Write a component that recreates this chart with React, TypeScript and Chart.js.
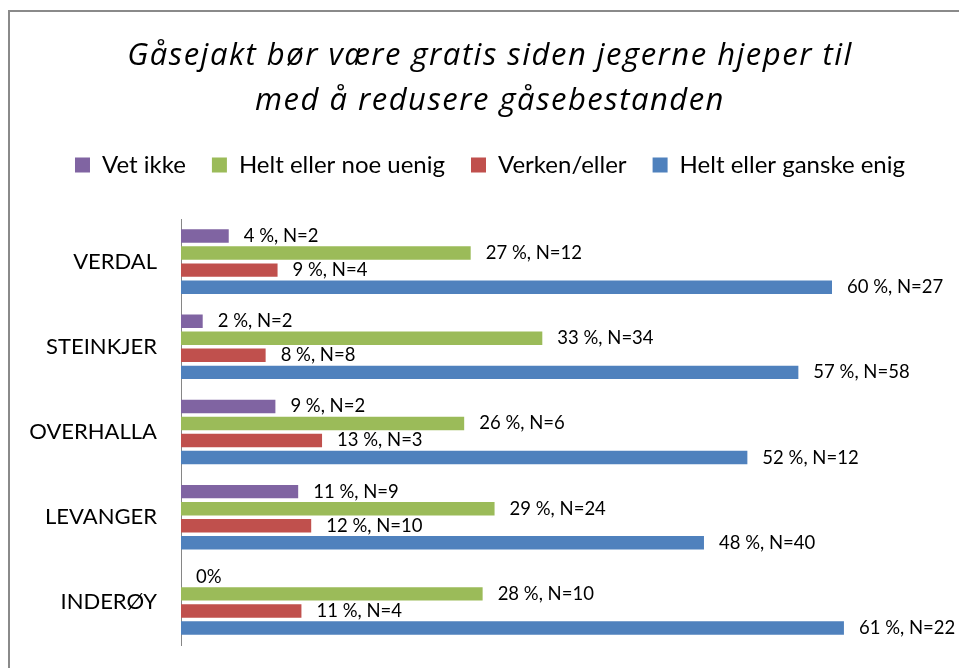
import React, { useEffect, useRef } from "react";
import { Chart, registerables } from "chart.js";

Chart.register(...registerables);

const categories = ["VERDAL", "STEINKJER", "OVERHALLA", "LEVANGER", "INDERØY"];

const seriesNames = ["Vet ikke", "Helt eller noe uenig", "Verken/eller", "Helt eller ganske enig"];
const seriesColors = ["#8064A2", "#9BBB59", "#C0504D", "#4F81BD"];

const vetIkke = [4.4, 2.0, 8.7, 10.8, 0];
const vetIkkeN = [2, 2, 2, 9, 0];
const uenig = [26.7, 33.3, 26.1, 28.9, 27.8];
const uenigN = [12, 34, 6, 24, 10];
const verken = [8.9, 7.8, 13.0, 12.0, 11.1];
const verkenN = [4, 8, 3, 10, 4];
const enig = [60.0, 56.9, 52.2, 48.2, 61.1];
const enigN = [27, 58, 12, 40, 22];

const titleLines = [
  "Gåsejakt bør være gratis siden jegerne hjeper til",
  "med å redusere gåsebestanden",
];

const FONT = "Lato, Carlito, Calibri, sans-serif";
const TITLE_FONT = "'Open Sans', sans-serif";

const LEFT_PAD = 20;
const RIGHT_PAD = 18.5;
const AXIS_X = 181;
const CENTER_X = 490;

const titlePlugin = {
  id: "customTitle",
  afterLayout(chart: any) {
    const lg = chart.legend;
    if (lg) {
      const shift = CENTER_X - (lg.left + lg.right) / 2;
      lg.left += shift;
      lg.right += shift;
    }
  },
  afterDraw(chart: any) {
    const ctx = chart.ctx;
    ctx.save();
    ctx.font = `italic 31px ${TITLE_FONT}`;
    try {
      (ctx as any).letterSpacing = "1.5px";
    } catch (e) {}
    ctx.fillStyle = "#000";
    ctx.textAlign = "center";
    ctx.textBaseline = "alphabetic";
    titleLines.forEach((line, i) => {
      ctx.fillText(line, CENTER_X, 65 + i * 45);
    });
    ctx.restore();
  },
};

const labelPlugin = {
  id: "barLabels",
  afterDatasetsDraw(chart: any) {
    const ctx = chart.ctx;
    ctx.save();
    ctx.font = `18.5px ${FONT}`;
    ctx.fillStyle = "#000";
    ctx.textBaseline = "middle";
    ctx.textAlign = "left";
    chart.data.datasets.forEach((ds: any, di: number) => {
      const meta = chart.getDatasetMeta(di);
      meta.data.forEach((el: any, i: number) => {
        const v = ds.data[i];
        const n = ds.nValues[i];
        const text = v === 0 ? "0%" : `${Math.round(v)} %, N=${n}`;
        ctx.fillText(text, el.x + 15, el.y);
      });
    });
    ctx.restore();
  },
};

export default function App() {
  const canvasRef = useRef<HTMLCanvasElement | null>(null);

  useEffect(() => {
    const canvas = canvasRef.current;
    if (!canvas) return;
    const values = [vetIkke, uenig, verken, enig];
    const ns = [vetIkkeN, uenigN, verkenN, enigN];
    const chart = new Chart(canvas, {
      type: "bar",
      data: {
        labels: categories,
        datasets: seriesNames.map((name, i) => ({
          label: name,
          data: values[i],
          nValues: ns[i],
          backgroundColor: seriesColors[i],
          borderWidth: 0,
          categoryPercentage: 0.8,
          barPercentage: 0.79,
        })) as any,
      },
      options: {
        indexAxis: "y",
        responsive: false,
        animation: false,
        layout: { padding: { left: LEFT_PAD, right: RIGHT_PAD, top: 127, bottom: 23 } },
        plugins: {
          title: { display: false },
          legend: {
            display: true,
            position: "top",
            labels: {
              boxWidth: 15,
              boxHeight: 15,
              padding: 26,
              color: "#000",
              font: { family: FONT, size: 24 },
            },
          },
          tooltip: { enabled: false },
        },
        scales: {
          x: {
            position: "top",
            min: 0,
            max: 70,
            grid: { display: false },
            border: { display: false },
            ticks: { display: false },
            afterFit: (s: any) => {
              s.height = 32;
            },
          },
          y: {
            grid: { display: false, drawTicks: false },
            border: { display: true, color: "#868686", width: 1 },
            ticks: {
              color: "#000",
              padding: 24,
              font: { family: FONT, size: 22 },
            },
            afterFit: (s: any) => {
              s.width = AXIS_X - LEFT_PAD;
              s.paddingTop = 0;
              s.paddingBottom = 0;
            },
          },
        },
      } as any,
      plugins: [labelPlugin, titlePlugin],
    });
    return () => chart.destroy();
  }, []);

  return (
    <div
      style={{
        position: "fixed",
        left: 0,
        top: 0,
        width: 959,
        height: 668,
        overflow: "hidden",
        background: "#fff",
      }}
    >
      <div
        style={{
          position: "absolute",
          left: 8,
          top: 10,
          width: 1200,
          height: 900,
          border: "2px solid #8a8a8a",
        }}
      />
      <canvas
        ref={canvasRef}
        width={959}
        height={668}
        style={{ position: "absolute", left: 0, top: 0, width: 959, height: 668 }}
      />
    </div>
  );
}
